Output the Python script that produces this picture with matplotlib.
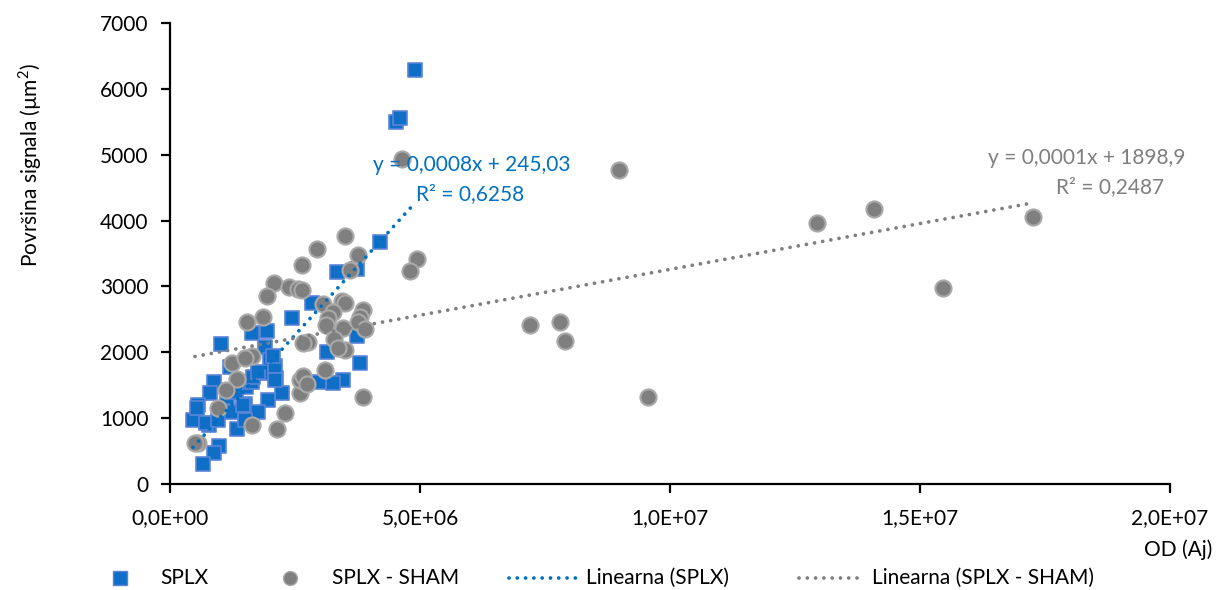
import numpy as np
import matplotlib
matplotlib.use("Agg")
import matplotlib.pyplot as plt
from matplotlib.lines import Line2D
from matplotlib.ticker import FuncFormatter, MultipleLocator

plt.rcParams['font.family'] = ['Lato', 'DejaVu Sans']
plt.rcParams['mathtext.fontset'] = 'custom'
plt.rcParams['mathtext.rm'] = 'Lato'

# ── data ──
splx_x = [4.90e6, 4.52e6, 4.60e6, 4.20e6, 3.34e6, 3.74e6, 2.84e6, 2.44e6, 1.64e6, 1.94e6,
          1.02e6, 1.90e6, 2.00e6, 3.14e6, 3.74e6, 3.80e6, 3.46e6, 3.26e6, 2.98e6, 1.20e6,
          0.88e6, 0.80e6, 0.56e6, 0.46e6, 0.78e6, 0.98e6, 0.88e6, 0.66e6, 1.34e6, 1.22e6,
          1.50e6, 1.52e6, 1.64e6, 1.82e6, 2.12e6, 2.24e6, 1.96e6, 1.76e6, 1.50e6, 1.14e6,
          1.32e6, 0.54e6, 0.72e6, 0.96e6, 1.46e6, 1.66e6, 1.76e6, 2.10e6, 2.10e6, 2.06e6]
splx_y = [6285, 5495, 5556, 3674, 3218, 3264, 2748, 2520, 2292, 2323,
          2125, 2080, 1882, 2004, 2247, 1837, 1579, 1533, 1548, 1776,
          1548, 1381, 1199, 972, 896, 577, 471, 304, 835, 1093,
          1214, 1472, 1548, 1685, 1609, 1381, 1275, 1093, 972, 1321,
          1397, 1154, 926, 972, 1199, 1624, 1700, 1791, 1579, 1943]

sham_x = [4.64e6, 3.50e6, 2.94e6, 3.76e6, 2.64e6, 3.60e6, 4.94e6, 4.80e6, 2.08e6, 2.38e6,
          2.56e6, 2.64e6, 1.94e6, 3.06e6, 3.44e6, 3.50e6, 3.26e6, 3.16e6, 3.12e6, 3.86e6,
          3.80e6, 3.76e6, 3.90e6, 3.46e6, 3.28e6, 3.50e6, 3.36e6, 2.76e6, 2.66e6, 1.86e6,
          1.54e6, 1.24e6, 1.64e6, 1.50e6, 1.34e6, 1.12e6, 0.96e6, 0.56e6, 0.50e6, 1.64e6,
          2.14e6, 2.30e6, 2.60e6, 2.60e6, 2.66e6, 2.74e6, 3.10e6, 3.86e6, 8.98e6, 7.20e6,
          7.80e6, 7.90e6, 9.56e6, 12.94e6, 14.08e6, 15.46e6, 17.26e6]
sham_y = [4934, 3765, 3567, 3476, 3324, 3249, 3416, 3233, 3051, 2990,
          2960, 2945, 2854, 2732, 2778, 2748, 2611, 2520, 2414, 2641,
          2535, 2459, 2353, 2368, 2201, 2034, 2064, 2156, 2140, 2535,
          2459, 1837, 1943, 1913, 1594, 1427, 1154, 622, 622, 896,
          835, 1078, 1381, 1579, 1639, 1518, 1731, 1321, 4767, 2414,
          2459, 2171, 1321, 3962, 4175, 2975, 4053]

splx_eq = ["y = 0,0008x + 245,03", "R² = 0,6258"]
sham_eq = ["y = 0,0001x + 1898,9", "R² = 0,2487"]
legend_labels = ['SPLX', 'SPLX - SHAM', 'Linearna (SPLX)', 'Linearna (SPLX - SHAM)']

blue = '#0F6FC6'
blue_edge = '#5B84D6'
gray = '#7F7F7F'
gray_edge = '#A9A9A9'
line_blue = '#0070C0'
dots = (0, (0.01, 2.2))
LW = 2.7
FS = 15

fig = plt.figure(figsize=(12.24, 5.9), dpi=100)
ax = fig.add_axes([170 / 1224, 1 - 484 / 590, 1000 / 1224, 461 / 590])

ax.scatter(splx_x, splx_y, marker='s', s=112, color=blue, edgecolors=blue_edge,
           linewidths=1.2, zorder=3)
ax.scatter(sham_x, sham_y, marker='o', s=135, color=gray, edgecolors=gray_edge,
           linewidths=1.5, zorder=4)

# ── linear trend lines ──
for xs, ys, c in [(splx_x, splx_y, line_blue), (sham_x, sham_y, gray)]:
    k, n = np.polyfit(xs, ys, 1)
    xx = np.array([min(xs), max(xs)])
    ax.plot(xx, k * xx + n, color=c, linestyle=dots, linewidth=LW,
            dash_capstyle='round', zorder=5)

ax.text(6.04e6, 4842, splx_eq[0], color=line_blue, fontsize=FS, ha='center', va='center', zorder=6)
ax.text(6.0e6, 4402, splx_eq[1], color=line_blue, fontsize=FS, ha='center', va='center', zorder=6)
ax.text(1.834e7, 4949, sham_eq[0], color=gray, fontsize=FS, ha='center', va='center', zorder=6)
ax.text(1.88e7, 4508, sham_eq[1], color=gray, fontsize=FS, ha='center', va='center', zorder=6)

ax.set_xlim(0, 2e7)
ax.set_ylim(0, 7000)
ax.xaxis.set_major_locator(MultipleLocator(5e6))
ax.yaxis.set_major_locator(MultipleLocator(1000))
ax.xaxis.set_major_formatter(FuncFormatter(lambda v, p: f"{v:.1E}".replace('.', ',')))
ax.spines['top'].set_visible(False)
ax.spines['right'].set_visible(False)
for s in ['left', 'bottom']:
    ax.spines[s].set_linewidth(1.6)
ax.tick_params(axis='both', direction='out', length=6.5, width=1.6, labelsize=FS)
ax.tick_params(axis='x', pad=11)
ax.tick_params(axis='y', pad=9)

fig.text(30 / 1224, 1 - 165 / 590, 'Površina signala (µm$^{2}$)', fontsize=FS,
         rotation=90, ha='center', va='center')
fig.text(1212 / 1224, 1 - 550 / 590, 'OD (Aj)', fontsize=FS, ha='right', va='center')

# ── legend drawn in figure coordinates ──
ly = 1 - 578 / 590
tr = fig.transFigure
fig.add_artist(Line2D([120 / 1224], [ly], marker='s', markersize=10, color=blue,
                      markeredgecolor=blue_edge, transform=tr))
fig.add_artist(Line2D([290 / 1224], [ly], marker='o', markersize=10, color=gray,
                      markeredgecolor=gray_edge, transform=tr))
fig.add_artist(Line2D([509 / 1224, 579 / 1224], [ly, ly], color=line_blue, linestyle=dots,
                      linewidth=LW, dash_capstyle='round', transform=tr))
fig.add_artist(Line2D([799 / 1224, 861 / 1224], [ly, ly], color=gray, linestyle=dots,
                      linewidth=LW, dash_capstyle='round', transform=tr))
for lx, lab in zip([160, 332, 586, 872], legend_labels):
    fig.text(lx / 1224, ly, lab, fontsize=FS, ha='left', va='center')

fig.savefig('out.png', dpi=100)
